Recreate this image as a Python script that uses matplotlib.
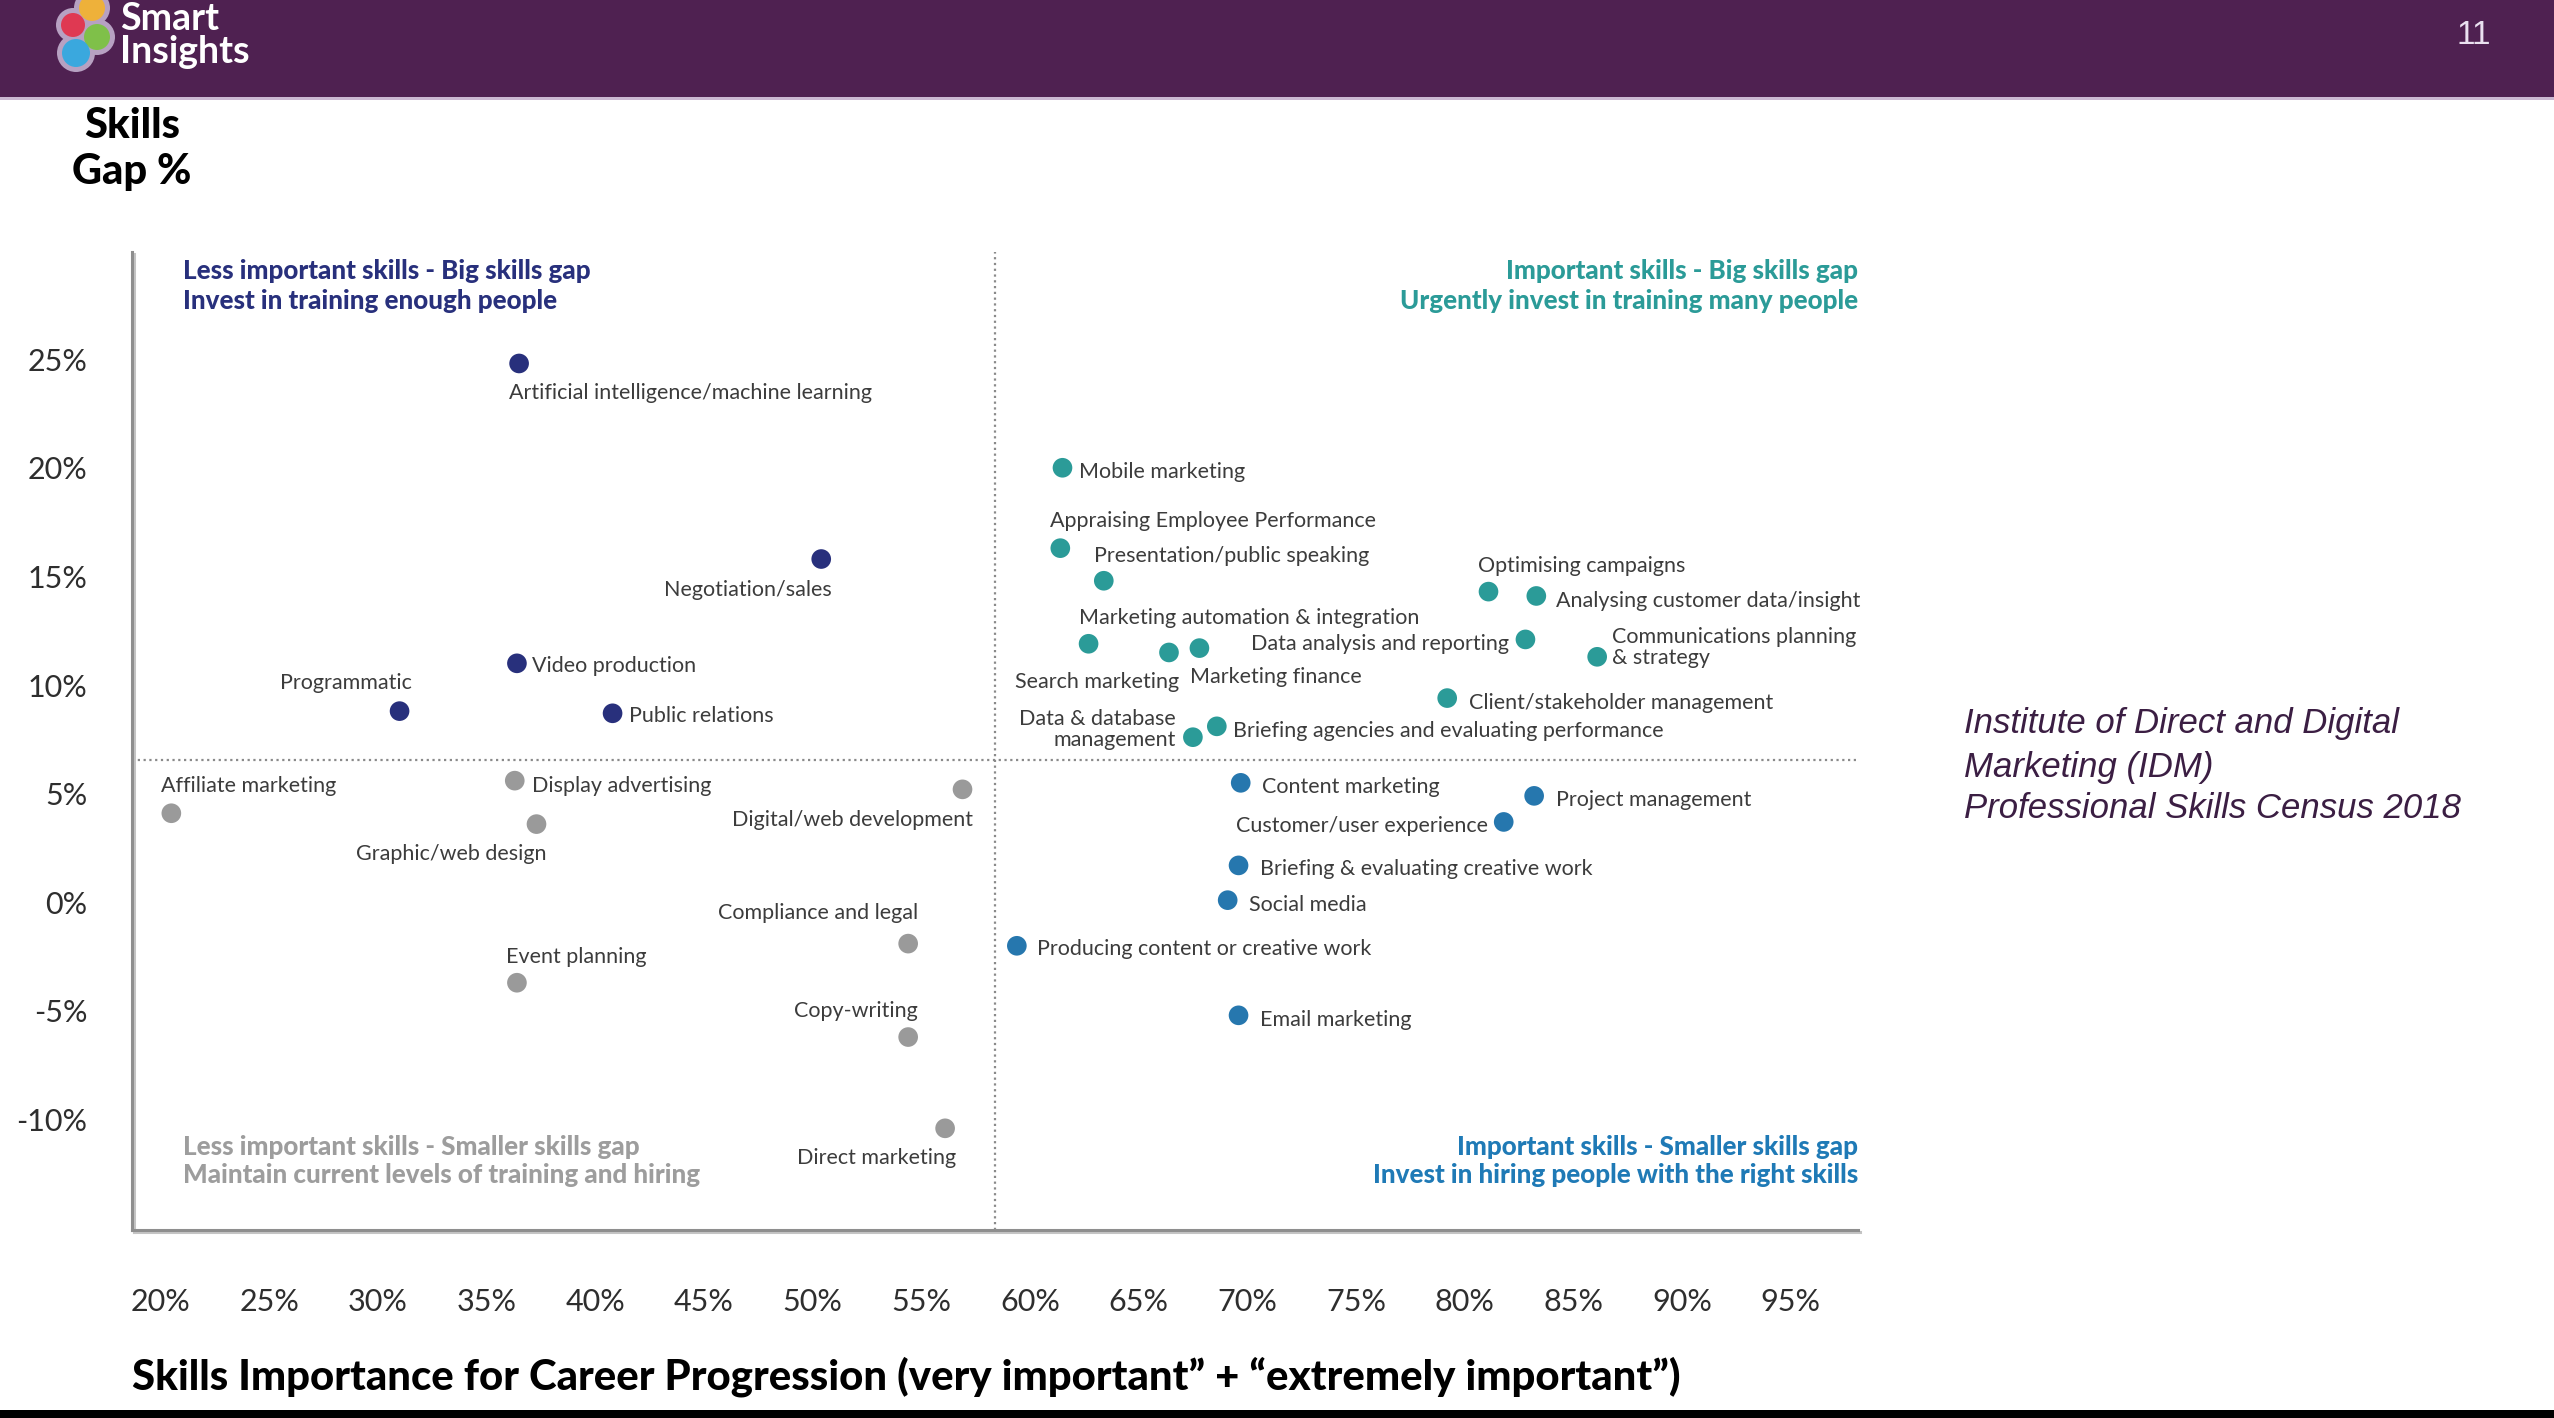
import matplotlib
matplotlib.use("Agg")
import matplotlib.pyplot as plt
from matplotlib import patheffects as pe
from matplotlib.patches import Rectangle, Circle

# ---------------- data ----------------
navy_skills = ["Artificial intelligence/machine learning", "Negotiation/sales",
               "Video production", "Programmatic", "Public relations"]
navy_x = [36.5, 50.4, 36.4, 31.0, 40.8]
navy_y = [24.8, 15.8, 11.0, 8.8, 8.7]

grey_skills = ["Affiliate marketing", "Display advertising", "Graphic/web design",
               "Digital/web development", "Compliance and legal", "Event planning",
               "Copy-writing", "Direct marketing"]
grey_x = [20.5, 36.3, 37.3, 56.9, 54.4, 36.4, 54.4, 56.1]
grey_y = [4.1, 5.6, 3.6, 5.2, -1.9, -3.7, -6.2, -10.4]

teal_skills = ["Mobile marketing", "Appraising Employee Performance",
               "Presentation/public speaking", "Optimising campaigns",
               "Analysing customer data/insight", "Marketing automation & integration",
               "Search marketing", "Marketing finance", "Data analysis and reporting",
               "Communications planning\n& strategy", "Client/stakeholder management",
               "Data & database\nmanagement", "Briefing agencies and evaluating performance"]
teal_x = [61.5, 61.4, 63.4, 81.1, 83.3, 62.7, 66.4, 67.8, 82.8, 86.1, 79.2, 67.5, 68.6]
teal_y = [20.0, 16.3, 14.8, 14.3, 14.1, 11.9, 11.5, 11.7, 12.1, 11.3, 9.4, 7.6, 8.1]

blue_skills = ["Content marketing", "Project management", "Customer/user experience",
               "Briefing & evaluating creative work", "Social media",
               "Producing content or creative work", "Email marketing"]
blue_x = [69.7, 83.2, 81.8, 69.6, 69.1, 59.4, 69.6]
blue_y = [5.5, 4.9, 3.7, 1.7, 0.1, -2.0, -5.2]

importance_threshold = 58.4
gap_threshold = 6.55

x_ticks = [20, 25, 30, 35, 40, 45, 50, 55, 60, 65, 70, 75, 80, 85, 90, 95]
y_ticks = [-10, -5, 0, 5, 10, 15, 20, 25]

# ---------------- style / layout ----------------
W, H, DPI = 2554, 1418, 100
PX = 72.0 / DPI
FONT = ["Lato", "DejaVu Sans"]
BOLD = "black"
C_NAVY, C_TEAL, C_BLUE, C_GREY = "#28307c", "#2b9b98", "#2677ae", "#9a9a9a"
C_LABEL = "#3c3c3c"

# label placement: ha, dx px, dy px (positive = down)
label_pos = {
    "Artificial intelligence/machine learning": ("left", -10, 30),
    "Negotiation/sales": ("right", 11, 31),
    "Video production": ("left", 15, 3),
    "Programmatic": ("right", 12, -28),
    "Public relations": ("left", 16, 3),
    "Affiliate marketing": ("left", -10, -27),
    "Display advertising": ("left", 17, 5),
    "Graphic/web design": ("right", 10, 30),
    "Digital/web development": ("right", 10, 31),
    "Compliance and legal": ("right", 10, -31),
    "Event planning": ("left", -11, -26),
    "Copy-writing": ("right", 10, -26),
    "Direct marketing": ("right", 11, 30),
    "Mobile marketing": ("left", 17, 4),
    "Appraising Employee Performance": ("left", -10, -27),
    "Presentation/public speaking": ("left", -10, -25),
    "Optimising campaigns": ("left", -10, -26),
    "Analysing customer data/insight": ("left", 20, 5),
    "Marketing automation & integration": ("left", -10, -26),
    "Search marketing": ("right", 10, 30),
    "Marketing finance": ("left", -9, 29),
    "Data analysis and reporting": ("right", -16, 5),
    "Communications planning\n& strategy": ("left", 15, -9),
    "Client/stakeholder management": ("left", 22, 5),
    "Data & database\nmanagement": ("right", -17, -8),
    "Briefing agencies and evaluating performance": ("left", 16, 5),
    "Content marketing": ("left", 21, 4),
    "Project management": ("left", 22, 4),
    "Customer/user experience": ("right", -16, 4),
    "Briefing & evaluating creative work": ("left", 21, 4),
    "Social media": ("left", 21, 5),
    "Producing content or creative work": ("left", 20, 3),
    "Email marketing": ("left", 21, 5),
}

fig = plt.figure(figsize=(W / DPI, H / DPI), dpi=DPI, facecolor="white")

# decoration layer in pixel coordinates
deco = fig.add_axes([0, 0, 1, 1], zorder=0)
deco.set_xlim(0, W)
deco.set_ylim(H, 0)
deco.axis("off")
deco.add_patch(Rectangle((0, 0), W, 97, color="#4f2151", lw=0))
deco.add_patch(Rectangle((0, 97), W, 3, color="#cbb8d2", lw=0))
deco.add_patch(Rectangle((0, 1410), W, 8, color="black", lw=0))

# logo
for (cx, cy, r) in [(92, 8, 13), (73, 25, 12), (97, 37, 13), (76, 53, 14)]:
    deco.add_patch(Circle((cx, cy), r + 5, color="#b7a1c2", lw=0))
for (cx, cy, r, c) in [(92, 8, 13, "#f2b233"), (97, 37, 13, "#7cc243"),
                       (73, 25, 12, "#e2344c"), (76, 53, 14, "#33a9e0")]:
    deco.add_patch(Circle((cx, cy), r, color=c, lw=0, alpha=0.95))
deco.text(120, 30, "Smart", color="white", fontsize=27, fontweight="bold",
          family=FONT, va="baseline", ha="left")
deco.text(120, 63, "Insights", color="white", fontsize=27, fontweight="bold",
          family=FONT, va="baseline", ha="left")
deco.text(2474, 35, "11", color="#eae1f0", fontsize=24, family=["Liberation Sans", "DejaVu Sans"],
          ha="center", va="center")

# y-axis title
deco.text(132, 126, "Skills", fontsize=30, fontweight=BOLD, family=FONT,
          ha="center", va="center", color="black")
deco.text(132, 172, "Gap %", fontsize=30, fontweight=BOLD, family=FONT,
          ha="center", va="center", color="black")

# x-axis title
deco.text(132, 1377, "Skills Importance for Career Progression (very important\u201d + \u201cextremely important\u201d)",
          fontsize=30.2, fontweight=BOLD, family=FONT, ha="left", va="center", color="black")

# source text
src_font = ["Liberation Sans", "DejaVu Sans"]
for y, t in [(724, "Institute of Direct and Digital"), (767, "Marketing (IDM)"),
             (809, "Professional Skills Census 2018")]:
    deco.text(1964, y, t, fontsize=25, style="italic", family=src_font,
              ha="left", va="center", color="#3b1e43")

# quadrant labels
quad = [
    (183, 271, 301, "left", C_NAVY, "Less important skills - Big skills gap", "Invest in training enough people"),
    (1858, 271, 301, "right", C_TEAL, "Important skills - Big skills gap", "Urgently invest in training many people"),
    (183, 1147, 1175, "left", "#9d9d9d", "Less important skills - Smaller skills gap", "Maintain current levels of training and hiring"),
    (1858, 1147, 1175, "right", "#1f7ab6", "Important skills - Smaller skills gap", "Invest in hiring people with the right skills"),
]
for x, y1, y2, ha, c, t1, t2 in quad:
    deco.text(x, y1, t1, fontsize=18.7, fontweight=BOLD, family=FONT, ha=ha, va="center", color=c)
    deco.text(x, y2, t2, fontsize=18.7, fontweight=BOLD, family=FONT, ha=ha, va="center", color=c)

# ---------------- main axes ----------------
ax = fig.add_axes([132 / W, 1 - 1230 / H, (1858 - 132) / W, (1230 - 252) / H], zorder=1)
ax.set_facecolor("none")
ax.set_xlim(18.69, 98.1)
ax.set_ylim(-15.08, 29.93)

for s in ("top", "right"):
    ax.spines[s].set_visible(False)
for s in ("left", "bottom"):
    ax.spines[s].set_color("#8e8e8e")
    ax.spines[s].set_linewidth(2.2)
    ax.spines[s].set_path_effects([pe.SimpleLineShadow(offset=(1.2, -1.5), shadow_color="#c4c4c4", alpha=1),
                                   pe.Normal()])

ax.set_xticks(x_ticks)
ax.set_xticklabels([f"{v}%" for v in x_ticks])
ax.set_yticks(y_ticks)
ax.set_yticklabels([f"{v}%" for v in y_ticks])
ax.tick_params(axis="x", length=0, pad=42, labelsize=22, labelcolor="#2e2e2e")
ax.tick_params(axis="y", length=0, pad=32, labelsize=22, labelcolor="#2e2e2e")
for lab in ax.get_xticklabels() + ax.get_yticklabels():
    lab.set_family(FONT)

ax.axvline(importance_threshold, color="#8a8a8a", lw=1.6, ls=(0, (1, 1.6)), zorder=1)
ax.axhline(gap_threshold, color="#8a8a8a", lw=1.6, ls=(0, (1, 1.6)), zorder=1)

for names, xs, ys, col in [(navy_skills, navy_x, navy_y, C_NAVY),
                           (grey_skills, grey_x, grey_y, C_GREY),
                           (teal_skills, teal_x, teal_y, C_TEAL),
                           (blue_skills, blue_x, blue_y, C_BLUE)]:
    ax.scatter(xs, ys, s=200, color=col, edgecolors="none", zorder=3)
    for n, x, y in zip(names, xs, ys):
        ha, dx, dy = label_pos[n]
        ax.annotate(n, (x, y), xytext=(dx * PX, -dy * PX), textcoords="offset points",
                    ha=ha, va="center", multialignment=ha, fontsize=15.5,
                    color=C_LABEL, family=FONT, linespacing=1.05, zorder=4)

fig.savefig("out.png", dpi=DPI, facecolor="white")
